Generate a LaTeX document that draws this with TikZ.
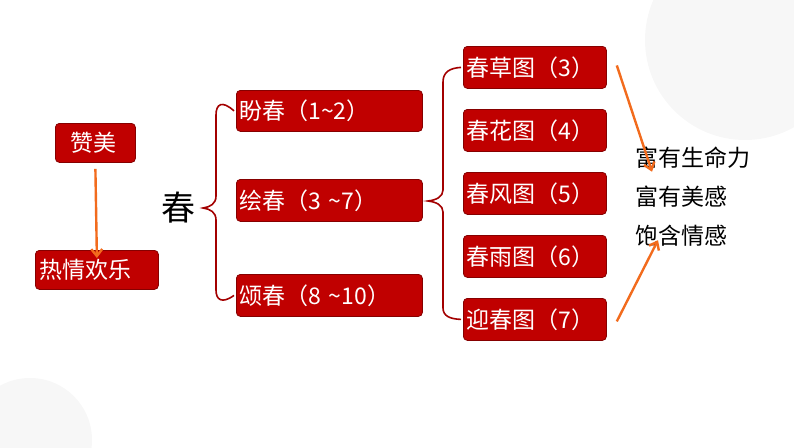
\documentclass[tikz,border=0pt]{standalone}
\usepackage{fontspec}
\newfontfamily\cjk{Noto Sans CJK SC}
\usetikzlibrary{arrows.meta}
\definecolor{boxred}{HTML}{C00000}
\definecolor{arr}{HTML}{F26B1D}
\begin{document}
\begin{tikzpicture}[x=1pt,y=-1pt,
  rbox/.style={draw=boxred!70!black, line width=0.8pt, fill=boxred, rounded corners=4pt, text=white, font=\cjk\fontsize{23}{23}\selectfont, anchor=north west, inner xsep=3pt, inner ysep=0pt, align=left},
  brc/.style={draw=boxred!85!black, line width=1.6pt},
  oarr/.style={draw=arr, line width=2.4pt, -{Straight Barb[length=7pt,width=11pt]}},
  plain/.style={font=\cjk\fontsize{23}{23}\selectfont, anchor=west}]
\useasboundingbox (0,0) rectangle (794,447);
\fill[gray!6] (745,40) circle (100);
\fill[gray!6] (30,440) circle (62);
% left
\node[rbox, text width=74, minimum height=39] (zm) at (55,123) {\hspace*{12pt}赞美};
\node[rbox, text width=117, minimum height=39] (rq) at (35,250) {\hspace*{1pt}热情欢乐};
\draw[oarr] (zm.south) ++(0,6) coordinate (a1) (a1) -- ([yshift=-8]rq.north);
\node[font=\cjk\fontsize{34}{34}\selectfont] (chun) at (178,208) {春};
% middle
\node[rbox, text width=180, minimum height=41] (p1) at (236,90) {盼春（1\string~2）};
\node[rbox, text width=180, minimum height=42] (p2) at (236,179) {绘春（3 \string~7）};
\node[rbox, text width=180, minimum height=42] (p3) at (236,274) {颂春（8 \string~10）};
% right
\foreach \i/\y/\t in {1/46/春草图（3）,2/109/春花图（4）,3/172/春风图（5）,4/235/春雨图（6）,5/298/迎春图（7）}{
  \node[rbox, text width=137, minimum height=42] (r\i) at (463,\y) {\t};
}
% braces
\draw[brc] ([xshift=-2]p1.west) .. controls (222,100) and (216,104) .. (216,115) -- (216,196)
  .. controls (216,204) and (210,207) .. (203,208) .. controls (210,209) and (216,212) .. (216,220)
  -- (216,290) .. controls (216,300) and (222,304) .. ([xshift=-2]p3.west);
\draw[brc] ([xshift=-2]r1.west) .. controls (450,68) and (443,72) .. (443,82) -- (443,190)
  .. controls (443,197) and (436,200) .. (428,201) .. controls (436,202) and (443,205) .. (443,212)
  -- (443,308) .. controls (443,316) and (450,319) .. ([xshift=-2]r5.west);
% words
\node[plain] (w1) at (632,158) {富有生命力};
\node[plain] (w2) at (632,197) {富有美感};
\node[plain] (w3) at (632,236) {饱含情感};
\draw[oarr] ([xshift=10,yshift=2]r1.east) -- ([xshift=20,yshift=-28]w1.north west);
\draw[oarr] ([xshift=10,yshift=-2]r5.east) -- ([xshift=26,yshift=10]w3.south west);
\end{tikzpicture}
\end{document}
